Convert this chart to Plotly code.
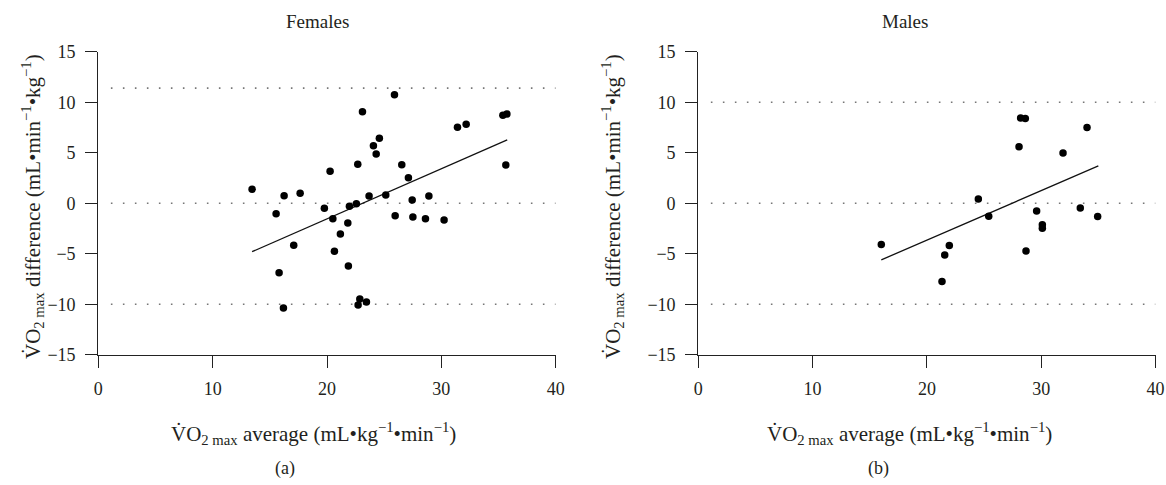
import plotly.graph_objects as go

# ---------------- data ----------------
fem_avg = [13.45, 16.25, 17.65, 15.55, 15.81, 16.19, 17.09, 20.27, 19.77, 20.51,
           20.65, 21.17, 21.82, 21.87, 21.96, 22.57, 22.69, 22.87, 22.72, 23.45,
           23.10, 23.68, 24.06, 24.30, 24.58, 25.14, 25.96, 26.54, 27.12, 27.45,
           27.51, 28.61, 28.91, 30.24, 31.41, 32.17, 35.38, 35.73, 35.64, 25.90]
fem_diff = [1.39, 0.75, 0.99, -1.03, -6.87, -10.37, -4.16, 3.17, -0.50, -1.52,
            -4.75, -3.04, -1.95, -6.21, -0.30, -0.04, 3.86, -9.48, -10.07, -9.77,
            9.07, 0.72, 5.70, 4.88, 6.44, 0.82, -1.23, 3.82, 2.53, 0.33,
            -1.36, -1.52, 0.72, -1.65, 7.52, 7.82, 8.71, 8.84, 3.79, 10.75]
fem_fit_x = [13.45, 35.76]
fem_fit_y = [-4.79, 6.27]
fem_limits = [11.4, 0, -10]

male_avg = [16.01, 21.32, 21.56, 21.96, 24.50, 25.41, 28.06, 28.20, 28.61, 28.67,
            29.60, 30.10, 30.10, 31.91, 33.42, 34.01, 34.94]
male_diff = [-4.07, -7.74, -5.11, -4.17, 0.42, -1.28, 5.60, 8.45, 8.39, -4.72,
             -0.76, -2.13, -2.46, 4.98, -0.46, 7.50, -1.31]
male_fit_x = [16.01, 35.00]
male_fit_y = [-5.60, 3.70]
male_limits = [10, 0, -10]

x_ticks = [0, 10, 20, 30, 40]
y_ticks = [-15, -10, -5, 0, 5, 10, 15]
panel_titles = ["Females", "Males"]
panel_letters = ["(a)", "(b)"]

FONT = "Liberation Serif"
TXT = "#231f20"
W, H = 1166, 485

ytitle = "V\u0307O<sub>2 max</sub> difference (mL\u2022min<sup>\u22121</sup>\u2022kg<sup>\u22121</sup>)"
xtitle = "V\u0307O<sub>2 max</sub> average (mL\u2022kg<sup>\u22121</sup>\u2022min<sup>\u22121</sup>)"

fig = go.Figure()

# domains in paper fractions
xdom_l = [98.3 / W, 555.7 / W]
xdom_r = [698.3 / W, 1155.5 / W]
ydom = [(H - 354.8) / H, (H - 51.8) / H]

panels = [
    ("x", "y", fem_avg, fem_diff, fem_fit_x, fem_fit_y, fem_limits),
    ("x2", "y2", male_avg, male_diff, male_fit_x, male_fit_y, male_limits),
]

for xa, ya, xs, ys, fx, fy, lims in panels:
    for lv in lims:
        fig.add_trace(go.Scatter(
            x=[1.1, 40], y=[lv, lv], xaxis=xa, yaxis=ya, mode="lines",
            line=dict(color="#777777", width=1.6, dash="1.6px,10.4px"),
            hoverinfo="skip", showlegend=False))
    fig.add_trace(go.Scatter(
        x=fx, y=fy, xaxis=xa, yaxis=ya, mode="lines",
        line=dict(color="#111111", width=1.3), showlegend=False))
    fig.add_trace(go.Scatter(
        x=xs, y=ys, xaxis=xa, yaxis=ya, mode="markers",
        marker=dict(color="#000000", size=7.5), showlegend=False))

axis_common = dict(
    showgrid=False, zeroline=False, showline=True, linecolor="#222222",
    linewidth=1.3, ticks="outside", ticklen=12, tickwidth=1.3,
    tickcolor="#222222", tickfont=dict(family=FONT, size=18, color=TXT),
    automargin=False,
)

fig.update_layout(
    width=W, height=H,
    margin=dict(l=0, r=0, t=0, b=0, pad=0, autoexpand=False),
    paper_bgcolor="white", plot_bgcolor="white",
    showlegend=False,
    xaxis=dict(domain=xdom_l, range=[0, 40], tickvals=x_ticks, anchor="y",
               ticklabelstandoff=5, **axis_common),
    yaxis=dict(domain=ydom, range=[-15, 15], tickvals=y_ticks, anchor="x",
               ticklabelstandoff=6, **axis_common),
    xaxis2=dict(domain=xdom_r, range=[0, 40], tickvals=x_ticks, anchor="y2",
                ticklabelstandoff=5, **axis_common),
    yaxis2=dict(domain=ydom, range=[-15, 15], tickvals=y_ticks, anchor="x2",
                ticklabelstandoff=6, **axis_common),
)

annots = [
    (317, 22, panel_titles[0], 0, 19),
    (905, 22, panel_titles[1], 0, 19),
    (314, 433, xtitle, 0, 21),
    (910, 433, xtitle, 0, 21),
    (285, 468, panel_letters[0], 0, 18),
    (878, 468, panel_letters[1], 0, 18),
    (32, 207, ytitle, -90, 21),
    (612, 207, ytitle, -90, 21),
]
for px, py, txt, ang, fs in annots:
    fig.add_annotation(
        x=px / W, y=(H - py) / H, xref="paper", yref="paper",
        text=txt, showarrow=False, textangle=ang,
        xanchor="center", yanchor="middle",
        font=dict(family=FONT, size=fs, color=TXT))

fig.write_html(
    "out.html",
    config={"displayModeBar": False},
    post_script="document.body.style.margin='0';document.body.style.overflow='hidden';",
)
